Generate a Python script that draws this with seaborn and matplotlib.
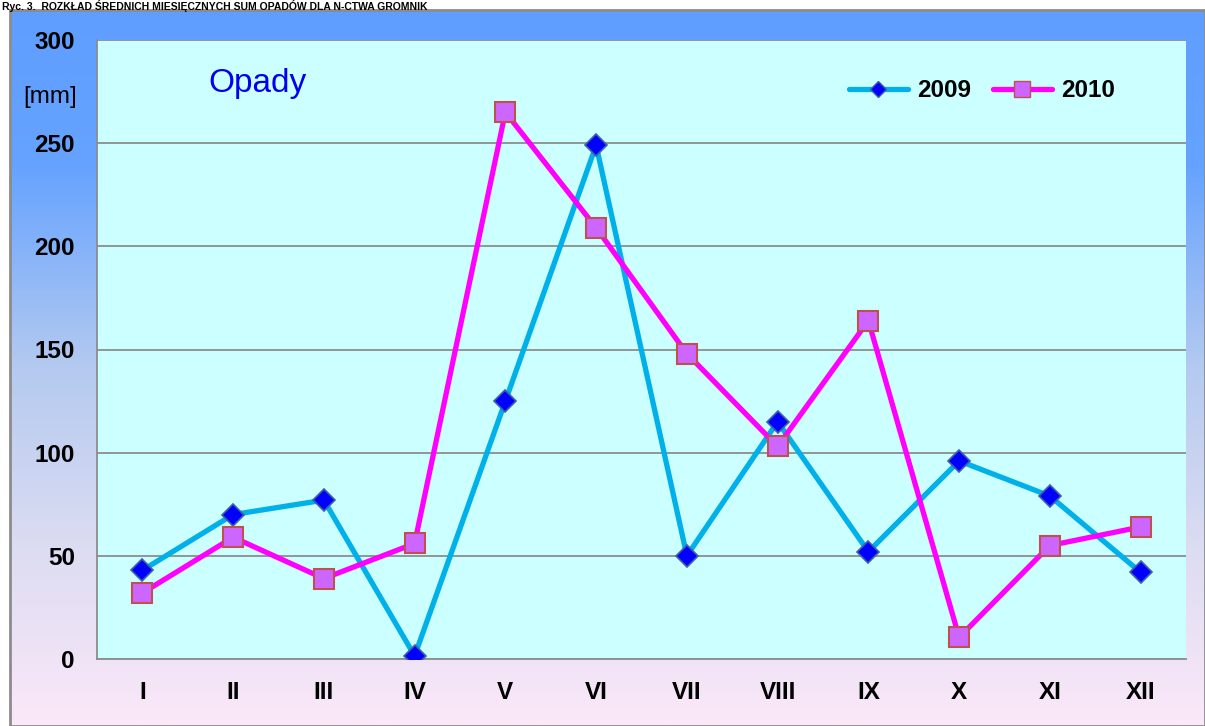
import numpy as np
import pandas as pd
import seaborn as sns
import matplotlib.pyplot as plt
from matplotlib.colors import LinearSegmentedColormap
from matplotlib.lines import Line2D

months = ['I', 'II', 'III', 'IV', 'V', 'VI', 'VII', 'VIII', 'IX', 'X', 'XI', 'XII']
rain_2009 = [43, 70, 77, 1.5, 125, 249, 50, 115, 52, 96, 79, 42]
rain_2010 = [32, 59, 39, 56, 265, 209, 148, 103, 164, 10.5, 55, 64]
y_ticks = [0, 50, 100, 150, 200, 250, 300]

sns.set_style('white')
plt.rcParams['font.family'] = ['Liberation Sans', 'DejaVu Sans']
plt.rcParams['text.color'] = 'black'
plt.rcParams['xtick.labelcolor'] = 'black'
plt.rcParams['ytick.labelcolor'] = 'black'

fig = plt.figure(figsize=(12.05, 7.26), dpi=100)

# gradient frame behind the chart
bg = fig.add_axes([10 / 1205, 0, 1 - 10 / 1205, 1 - 10 / 726], zorder=0)
grad_cmap = LinearSegmentedColormap.from_list(
    'frame', [(0.0, '#5f9eff'), (0.22, '#66a3ff'), (0.5, '#b4caf0'),
              (0.75, '#dcdcf2'), (1.0, '#fbe8f8')])
bg.imshow(np.linspace(0, 1, 256).reshape(-1, 1), aspect='auto', cmap=grad_cmap,
          extent=[0, 1, 0, 1])
bg.set_xticks([])
bg.set_yticks([])
for s in bg.spines.values():
    s.set_color('#8c8c8c')
    s.set_linewidth(2)

fig.text(0.002, 1.0, 'Ryc. 3.  ROZKŁAD ŚREDNICH MIESIĘCZNYCH SUM OPADÓW DLA N-CTWA GROMNIK',
         fontsize=7.5, fontweight='bold', va='top', ha='left', color='black')

ax = fig.add_axes([97 / 1205, 1 - 659 / 726, (1186 - 97) / 1205, (659 - 40) / 726], zorder=1)
ax.set_facecolor('#ccffff')

df09 = pd.DataFrame({'month': months, 'value': rain_2009})
df10 = pd.DataFrame({'month': months, 'value': rain_2010})

sns.lineplot(data=df09, x='month', y='value', ax=ax, color='#00b0e8', lw=3.8,
             marker='D', markersize=11, markerfacecolor='#0000ff',
             markeredgecolor='#3f5fa8', markeredgewidth=1.2, zorder=3)
sns.lineplot(data=df10, x='month', y='value', ax=ax, color='#ff00ff', lw=3.8,
             marker='s', markersize=14, markerfacecolor='#cc66ff',
             markeredgecolor='#c0504d', markeredgewidth=1.5, zorder=4)

ax.set_xlim(-0.5, 11.5)
ax.set_ylim(0, 300)
ax.set_yticks(y_ticks)
ax.set_yticklabels([str(v) for v in y_ticks], fontsize=17.5, fontweight='bold', color='black')
ax.set_xticks(np.arange(-0.5, 12, 1))
ax.set_xticklabels([])
ax.set_xticks(np.arange(12), minor=True)
ax.set_xticklabels(months, minor=True, fontsize=17.5, fontweight='bold', color='black')
ax.tick_params(axis='x', which='major', direction='out', length=8, width=1.2, color='#8c8c8c')
ax.tick_params(axis='x', which='minor', length=0, pad=16)
ax.tick_params(axis='y', direction='out', length=8, width=1.2, color='#8c8c8c', pad=8)
ax.yaxis.grid(True, color='#8c8c8c', lw=1.3)
ax.set_axisbelow(True)
for side in ['top', 'right']:
    ax.spines[side].set_visible(False)
for side in ['left', 'bottom']:
    ax.spines[side].set_color('#8c8c8c')
    ax.spines[side].set_linewidth(1.3)
ax.set_xlabel('')
ax.set_ylabel('')

ax.text(0.147, 0.93, 'Opady', transform=ax.transAxes, color='#0000ee',
        fontsize=24, ha='center', va='center')
fig.text(50 / 1205, 1 - 97 / 726, '[mm]', fontsize=17.5, ha='center', va='center', color='black')

handles = [
    Line2D([], [], color='#00b0e8', lw=3.8, marker='D', markersize=8,
           markerfacecolor='#0000ff', markeredgecolor='#3f5fa8'),
    Line2D([], [], color='#ff00ff', lw=3.8, marker='s', markersize=11,
           markerfacecolor='#cc66ff', markeredgecolor='#c0504d'),
]
leg = ax.legend(handles, ['2009', '2010'], loc='upper right', bbox_to_anchor=(0.955, 0.972),
                ncol=2, frameon=False, prop={'size': 17.5, 'weight': 'bold'},
                handlelength=2.4, columnspacing=0.9, handletextpad=0.4)
for t in leg.get_texts():
    t.set_color('black')

fig.savefig('out.png', dpi=100)
